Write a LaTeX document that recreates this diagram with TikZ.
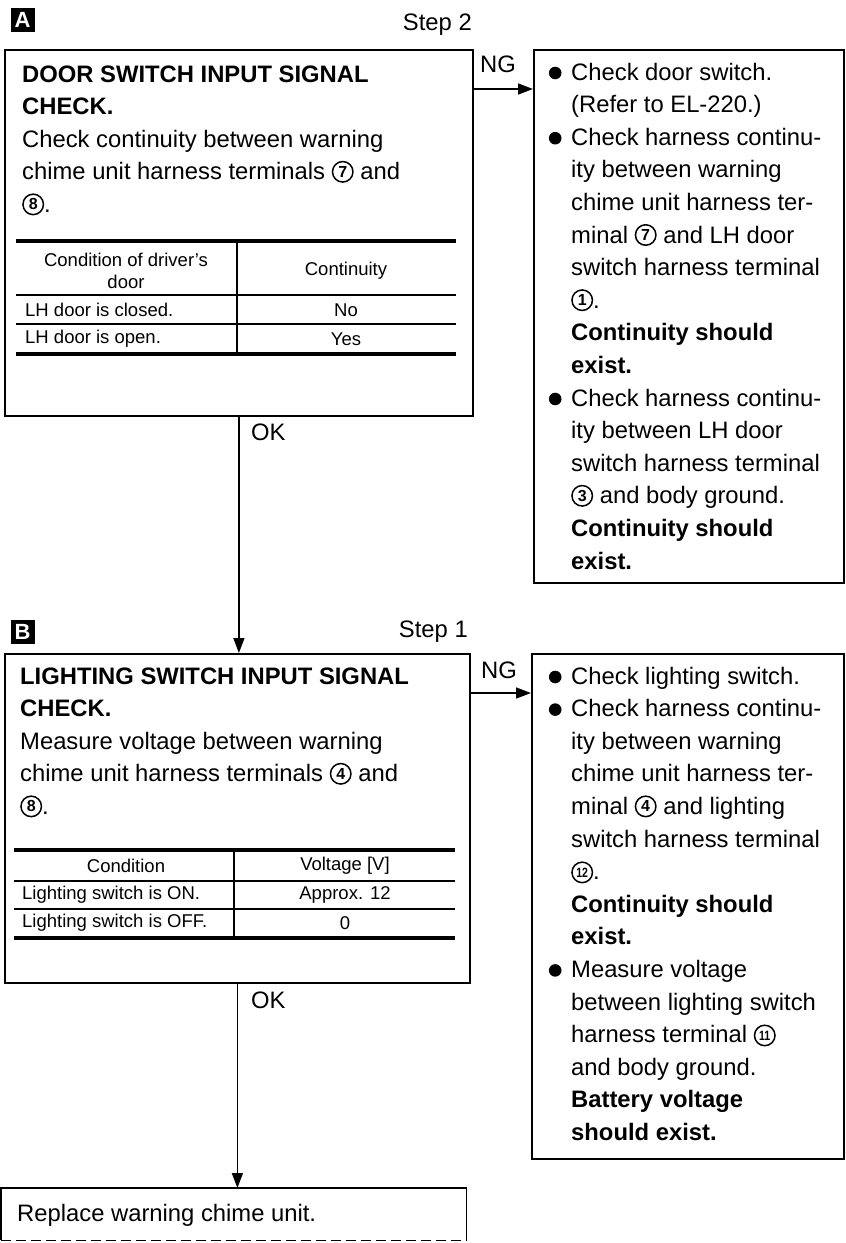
\documentclass[tikz,border=0pt]{standalone}
\usepackage{fontspec}
\setmainfont{Liberation Sans}
\usepackage{graphicx}
\usetikzlibrary{arrows.meta,calc}
\tikzset{
  box/.style={draw, line width=1.8pt, rectangle, anchor=north west, inner sep=0pt},
  arr/.style={line width=1.5pt, -{Triangle[length=15pt,width=11pt]}},
  body/.style={anchor=base west, inner sep=0pt, font=\fontsize{23.8}{32.6}\selectfont},
  tbl/.style={inner sep=0pt, font=\fontsize{18.5}{22}\selectfont},
  lbl/.style={inner sep=0pt, font=\fontsize{23.8}{28}\selectfont},
  tagbox/.style={fill=black, text=white, minimum size=24pt, inner sep=0pt, font=\fontsize{22}{22}\selectfont\bfseries},
  thickrule/.style={line width=4pt},
  thinrule/.style={line width=1.3pt},
  cnumsty/.style={circle, draw, line width=1.5pt, minimum size=20.5pt, inner sep=0pt, font=\fontsize{16}{16}\selectfont\bfseries},
}
\newcommand\cnum[2]{\tikz[baseline={([yshift=-2.5pt]#1.base)}]\node[cnumsty](#1){#2};}
\newcommand\cnumw[2]{\tikz[baseline={([yshift=-2.5pt]#1.base)}]\node[cnumsty,font=\fontsize{13.5}{13.5}\selectfont\bfseries](#1){\scalebox{0.78}[1]{#2}};}
\newcommand\blt{\tikz[baseline=-7pt]\fill (0pt,0pt) circle[radius=6.3pt];}
\begin{document}
\begin{tikzpicture}[x=1pt,y=-1pt]
\useasboundingbox (0,0) rectangle (846,1243);

% ---------- part A ----------
\node[tagbox] (tagA) at (22.5,19.5) {A};
\node[lbl, anchor=base east] (stepA) at (472,30) {Step 2};
\node[box, minimum width=468pt, minimum height=366pt] (boxA) at (4,49) {};
\node[box, minimum width=310pt, minimum height=533pt] (boxRA) at (533,49) {};

\node[body] (txtA) at (22,82) {\begin{tabular}[t]{@{}l@{}}
\textbf{DOOR SWITCH INPUT SIGNAL}\\
\textbf{CHECK.}\\
Check continuity between warning\\
chime unit harness terminals \cnum{na7}{7} and\\
\cnum{na8}{8}.
\end{tabular}};

% table A
\draw[thickrule] (16,241) -- (456,241);
\draw[thinrule] (16,295) -- (456,295);
\draw[thinrule] (16,324) -- (456,324);
\draw[thickrule] (16,354) -- (456,354);
\draw[thinrule] (237,241) -- (237,354);
\node[tbl, align=center] (tAh1) at (126,271) {Condition of driver's\\door};
\node[tbl] (tAh2) at (346,271) {Continuity};
\node[tbl, anchor=west] (tAr1) at (25,310) {LH door is closed.};
\node[tbl] (tAv1) at (346,310) {No};
\node[tbl, anchor=west] (tAr2) at (25,339) {LH door is open.};
\node[tbl] (tAv2) at (346,339) {Yes};

\node[body] (txtRA) at (544,80) {\begin{tabular}[t]{@{}l@{\hspace{5pt}}l@{}}
\makebox[22pt]{\blt} & Check door switch.\\
 & (Refer to EL-220.)\\
\makebox[22pt]{\blt} & Check harness continu-\\
 & ity between warning\\
 & chime unit harness ter-\\
 & minal \cnum{nb7}{7} and LH door\\
 & switch harness terminal\\
 & \cnum{nb1}{1}.\\
 & \textbf{Continuity should}\\
 & \textbf{exist.}\\
\makebox[22pt]{\blt} & Check harness continu-\\
 & ity between LH door\\
 & switch harness terminal\\
 & \cnum{nb3}{3} and body ground.\\
 & \textbf{Continuity should}\\
 & \textbf{exist.}
\end{tabular}};

\coordinate (ngA) at ($(boxA.north east)+(0,40)$);
\draw[arr] (ngA) -- (ngA -| boxRA.west);
\node[lbl] (ngAt) at (498,64) {NG};

% ---------- part B ----------
\node[tagbox] (tagB) at (22.5,631.5) {B};
\node[lbl, anchor=base east] (stepB) at (468,637) {Step 1};
\node[box, minimum width=465pt, minimum height=329pt] (boxB) at (4,653) {};
\node[box, minimum width=312pt, minimum height=505pt] (boxRB) at (531,653) {};

\draw[arr] (boxA.south) -- (boxA.south |- boxB.north);
\node[lbl, anchor=west] (okA) at (251,432) {OK};

\node[body] (txtB) at (20,684) {\begin{tabular}[t]{@{}l@{}}
\textbf{LIGHTING SWITCH INPUT SIGNAL}\\
\textbf{CHECK.}\\
Measure voltage between warning\\
chime unit harness terminals \cnum{nc4}{4} and\\
\cnum{nc8}{8}.
\end{tabular}};

% table B
\draw[thickrule] (14,850) -- (455,850);
\draw[thinrule] (14,881) -- (455,881);
\draw[thinrule] (14,909) -- (455,909);
\draw[thickrule] (14,938) -- (455,938);
\draw[thinrule] (234,850) -- (234,938);
\node[tbl] (tBh1) at (126,866) {Condition};
\node[tbl] (tBh2) at (345,866) {Voltage [V]};
\node[tbl, anchor=west] (tBr1) at (22,895) {Lighting switch is ON.};
\node[tbl] (tBv1) at (345,895) {Approx. 12};
\node[tbl, anchor=west] (tBr2) at (22,923) {Lighting switch is OFF.};
\node[tbl] (tBv2) at (345,923) {0};

\node[body] (txtRB) at (544,684) {\begin{tabular}[t]{@{}l@{\hspace{5pt}}l@{}}
\makebox[22pt]{\blt} & Check lighting switch.\\
\makebox[22pt]{\blt} & Check harness continu-\\
 & ity between warning\\
 & chime unit harness ter-\\
 & minal \cnum{nd4}{4} and lighting\\
 & switch harness terminal\\
 & \cnumw{nd12}{12}.\\
 & \textbf{Continuity should}\\
 & \textbf{exist.}\\
\makebox[22pt]{\blt} & Measure voltage\\
 & between lighting switch\\
 & harness terminal \cnumw{nd11}{11}\\
 & and body ground.\\
 & \textbf{Battery voltage}\\
 & \textbf{should exist.}
\end{tabular}};

\coordinate (ngB) at ($(boxB.north east)+(0,40)$);
\draw[arr] (ngB) -- (ngB -| boxRB.west);
\node[lbl] (ngBt) at (499,670) {NG};

% ---------- final ----------
\node[anchor=north west, minimum width=465pt, minimum height=52pt, inner sep=0pt] (boxC) at (1,1188) {};
\draw[line width=1.8pt] (boxC.south west) -- (boxC.north west) -- (boxC.north east) -- (boxC.south east);
\draw[line width=1.8pt, dash pattern=on 10pt off 5pt] (boxC.south west) -- (boxC.south east);
\node[body] (txtC) at (17,1221) {Replace warning chime unit.};

\draw[arr] (boxB.south) -- (boxB.south |- boxC.north);
\node[lbl, anchor=west] (okB) at (251,1000) {OK};
\end{tikzpicture}
\end{document}
